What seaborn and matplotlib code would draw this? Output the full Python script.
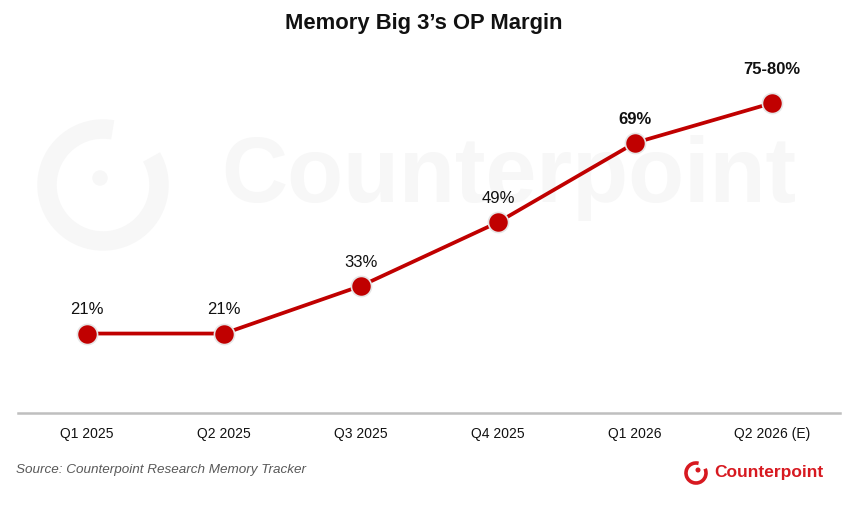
import matplotlib
matplotlib.use("Agg")
import matplotlib.pyplot as plt
from matplotlib.patches import Arc, Circle
import pandas as pd
import seaborn as sns

# data
quarters = ["Q1 2025", "Q2 2025", "Q3 2025", "Q4 2025", "Q1 2026", "Q2 2026 (E)"]
op_margin = [21, 21, 33, 49, 69, 79]
point_labels = ["21%", "21%", "33%", "49%", "69%", "75-80%"]
bold_labels = [False, False, False, False, True, True]

RED = "#c00000"
LOGO_RED = "#d71920"
WM = "#f7f7f7"

sns.set_theme(style="white")
plt.rcParams["font.family"] = ["Liberation Sans", "DejaVu Sans"]

df = pd.DataFrame({"quarter": quarters, "margin": op_margin})

fig = plt.figure(figsize=(8.48, 5.18), dpi=100)
ax = fig.add_axes([0.0218, 0.2027, 0.9693, 0.6826])
ax.set_zorder(2)
ax.patch.set_alpha(0)

# faint watermark behind the chart
fig.text(0.60, 0.657, "Counterpoint", fontsize=66, fontweight="bold",
         color=WM, ha="center", va="center", zorder=0)
fig.patches.append(Arc((103, 518 - 185), 112, 112, theta1=80, theta2=390,
                       lw=14, color=WM, transform=None, zorder=0))
fig.patches.append(Circle((100, 518 - 178), 7, color=WM,
                          transform=None, zorder=0))

sns.lineplot(data=df, x="quarter", y="margin", ax=ax, color=RED, lw=2.7,
             marker="o", markersize=14.5, markerfacecolor=RED,
             markeredgecolor="#e6e6e6", markeredgewidth=1.2, sort=False)

for i, (v, lab, b) in enumerate(zip(op_margin, point_labels, bold_labels)):
    off = 24 if i == len(op_margin) - 1 else 17
    ax.annotate(lab, (i, v), xytext=(0, off), textcoords="offset points",
                ha="center", va="center", fontsize=12,
                fontweight="bold" if b else "normal", color="#111111")

ax.set_xlim(-0.5, 5.5)
ax.set_ylim(1, 90)
ax.set_xlabel("")
ax.set_ylabel("")
ax.set_yticks([])
ax.tick_params(axis="x", length=0, labelsize=10, colors="#111111", pad=10)
for s in ["top", "left", "right"]:
    ax.spines[s].set_visible(False)
ax.spines["bottom"].set_color("#bfbfbf")
ax.spines["bottom"].set_linewidth(1.8)

fig.text(0.5, 0.955, "Memory Big 3\u2019s OP Margin", fontsize=15.8,
         fontweight="bold", ha="center", va="center", color="#111111")
fig.text(0.019, 0.092, "Source: Counterpoint Research Memory Tracker",
         fontsize=9.7, style="italic", color="#595959", va="center")

# logo bottom right
fig.text(0.842, 0.087, "Counterpoint", fontsize=12.5, fontweight="bold",
         color=LOGO_RED, va="center", ha="left")
fig.patches.append(Arc((696, 518 - 473), 20, 20, theta1=75, theta2=385,
                       lw=2.6, color=LOGO_RED, transform=None))
fig.patches.append(Circle((698, 518 - 470), 1.8, color=LOGO_RED,
                          transform=None))

fig.savefig("out.png", dpi=100)
